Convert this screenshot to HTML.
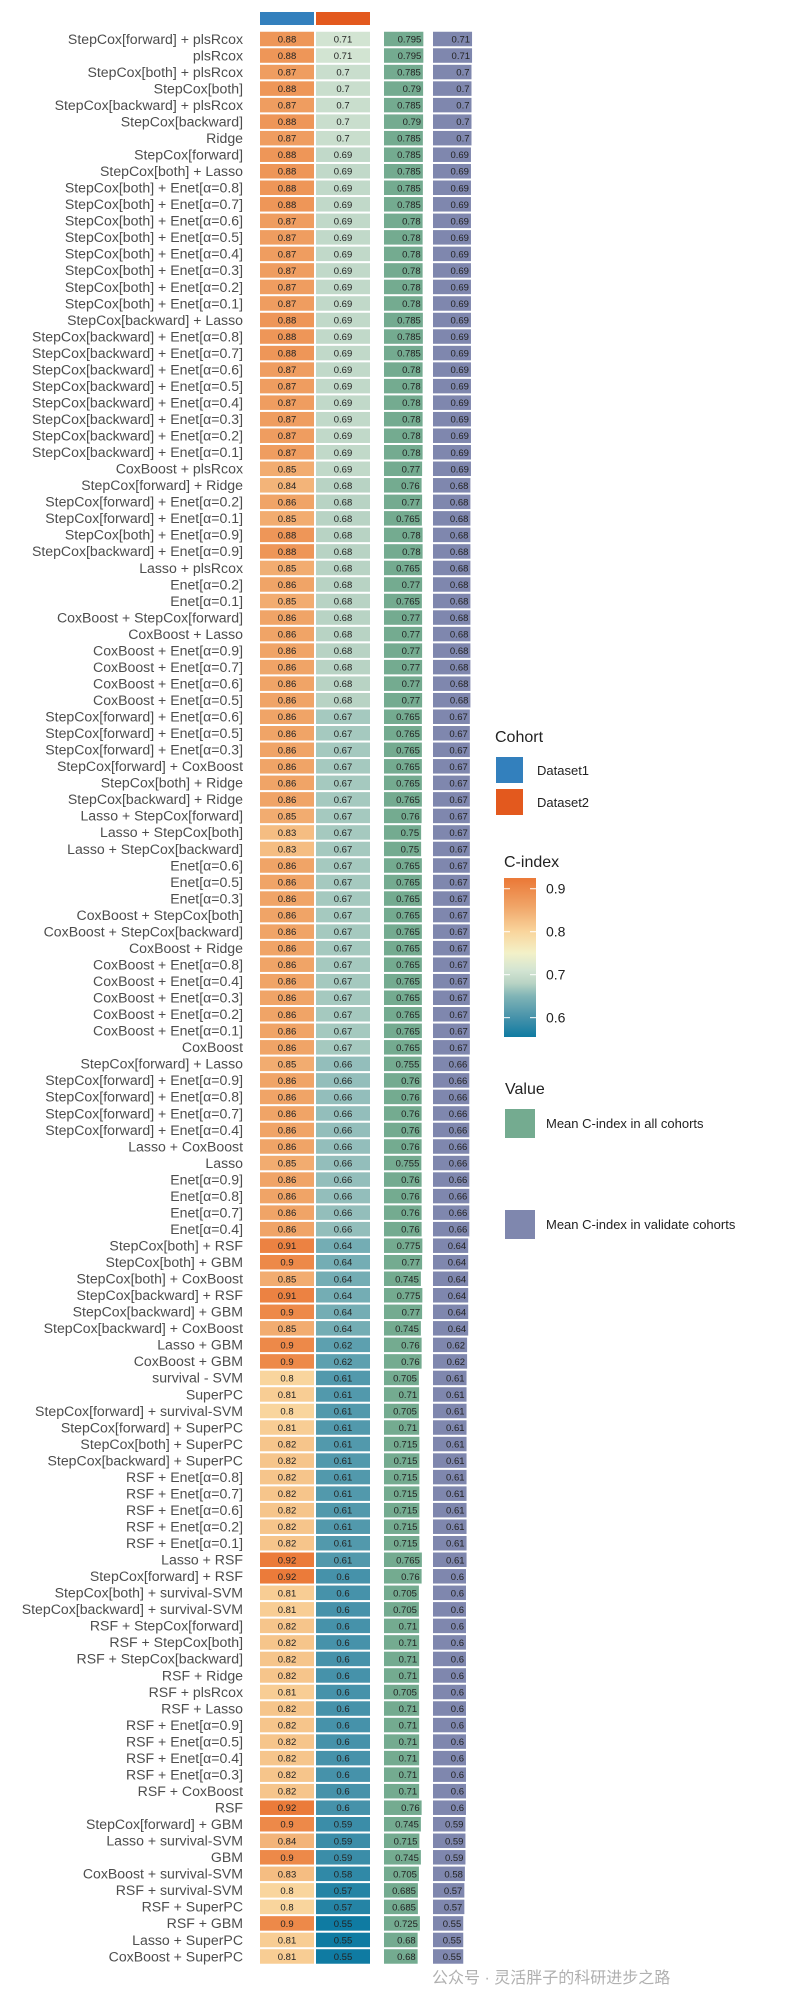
<!DOCTYPE html>
<html><head><meta charset="utf-8">
<style>
html,body{margin:0;padding:0;background:#fff;width:800px;height:2000px;overflow:hidden}
svg{display:block;font-family:"Liberation Sans","Noto Sans CJK SC",sans-serif}
</style></head>
<body>
<svg id="chart" width="800" height="2000"></svg>
<script>
const models=["StepCox[forward] + plsRcox","plsRcox","StepCox[both] + plsRcox","StepCox[both]","StepCox[backward] + plsRcox","StepCox[backward]","Ridge","StepCox[forward]","StepCox[both] + Lasso","StepCox[both] + Enet[α=0.8]","StepCox[both] + Enet[α=0.7]","StepCox[both] + Enet[α=0.6]","StepCox[both] + Enet[α=0.5]","StepCox[both] + Enet[α=0.4]","StepCox[both] + Enet[α=0.3]","StepCox[both] + Enet[α=0.2]","StepCox[both] + Enet[α=0.1]","StepCox[backward] + Lasso","StepCox[backward] + Enet[α=0.8]","StepCox[backward] + Enet[α=0.7]","StepCox[backward] + Enet[α=0.6]","StepCox[backward] + Enet[α=0.5]","StepCox[backward] + Enet[α=0.4]","StepCox[backward] + Enet[α=0.3]","StepCox[backward] + Enet[α=0.2]","StepCox[backward] + Enet[α=0.1]","CoxBoost + plsRcox","StepCox[forward] + Ridge","StepCox[forward] + Enet[α=0.2]","StepCox[forward] + Enet[α=0.1]","StepCox[both] + Enet[α=0.9]","StepCox[backward] + Enet[α=0.9]","Lasso + plsRcox","Enet[α=0.2]","Enet[α=0.1]","CoxBoost + StepCox[forward]","CoxBoost + Lasso","CoxBoost + Enet[α=0.9]","CoxBoost + Enet[α=0.7]","CoxBoost + Enet[α=0.6]","CoxBoost + Enet[α=0.5]","StepCox[forward] + Enet[α=0.6]","StepCox[forward] + Enet[α=0.5]","StepCox[forward] + Enet[α=0.3]","StepCox[forward] + CoxBoost","StepCox[both] + Ridge","StepCox[backward] + Ridge","Lasso + StepCox[forward]","Lasso + StepCox[both]","Lasso + StepCox[backward]","Enet[α=0.6]","Enet[α=0.5]","Enet[α=0.3]","CoxBoost + StepCox[both]","CoxBoost + StepCox[backward]","CoxBoost + Ridge","CoxBoost + Enet[α=0.8]","CoxBoost + Enet[α=0.4]","CoxBoost + Enet[α=0.3]","CoxBoost + Enet[α=0.2]","CoxBoost + Enet[α=0.1]","CoxBoost","StepCox[forward] + Lasso","StepCox[forward] + Enet[α=0.9]","StepCox[forward] + Enet[α=0.8]","StepCox[forward] + Enet[α=0.7]","StepCox[forward] + Enet[α=0.4]","Lasso + CoxBoost","Lasso","Enet[α=0.9]","Enet[α=0.8]","Enet[α=0.7]","Enet[α=0.4]","StepCox[both] + RSF","StepCox[both] + GBM","StepCox[both] + CoxBoost","StepCox[backward] + RSF","StepCox[backward] + GBM","StepCox[backward] + CoxBoost","Lasso + GBM","CoxBoost + GBM","survival - SVM","SuperPC","StepCox[forward] + survival-SVM","StepCox[forward] + SuperPC","StepCox[both] + SuperPC","StepCox[backward] + SuperPC","RSF + Enet[α=0.8]","RSF + Enet[α=0.7]","RSF + Enet[α=0.6]","RSF + Enet[α=0.2]","RSF + Enet[α=0.1]","Lasso + RSF","StepCox[forward] + RSF","StepCox[both] + survival-SVM","StepCox[backward] + survival-SVM","RSF + StepCox[forward]","RSF + StepCox[both]","RSF + StepCox[backward]","RSF + Ridge","RSF + plsRcox","RSF + Lasso","RSF + Enet[α=0.9]","RSF + Enet[α=0.5]","RSF + Enet[α=0.4]","RSF + Enet[α=0.3]","RSF + CoxBoost","RSF","StepCox[forward] + GBM","Lasso + survival-SVM","GBM","CoxBoost + survival-SVM","RSF + survival-SVM","RSF + SuperPC","RSF + GBM","Lasso + SuperPC","CoxBoost + SuperPC"];
const dataset1=[0.88,0.88,0.87,0.88,0.87,0.88,0.87,0.88,0.88,0.88,0.88,0.87,0.87,0.87,0.87,0.87,0.87,0.88,0.88,0.88,0.87,0.87,0.87,0.87,0.87,0.87,0.85,0.84,0.86,0.85,0.88,0.88,0.85,0.86,0.85,0.86,0.86,0.86,0.86,0.86,0.86,0.86,0.86,0.86,0.86,0.86,0.86,0.85,0.83,0.83,0.86,0.86,0.86,0.86,0.86,0.86,0.86,0.86,0.86,0.86,0.86,0.86,0.85,0.86,0.86,0.86,0.86,0.86,0.85,0.86,0.86,0.86,0.86,0.91,0.9,0.85,0.91,0.9,0.85,0.9,0.9,0.8,0.81,0.8,0.81,0.82,0.82,0.82,0.82,0.82,0.82,0.82,0.92,0.92,0.81,0.81,0.82,0.82,0.82,0.82,0.81,0.82,0.82,0.82,0.82,0.82,0.82,0.92,0.9,0.84,0.9,0.83,0.8,0.8,0.9,0.81,0.81];
const dataset2=[0.71,0.71,0.7,0.7,0.7,0.7,0.7,0.69,0.69,0.69,0.69,0.69,0.69,0.69,0.69,0.69,0.69,0.69,0.69,0.69,0.69,0.69,0.69,0.69,0.69,0.69,0.69,0.68,0.68,0.68,0.68,0.68,0.68,0.68,0.68,0.68,0.68,0.68,0.68,0.68,0.68,0.67,0.67,0.67,0.67,0.67,0.67,0.67,0.67,0.67,0.67,0.67,0.67,0.67,0.67,0.67,0.67,0.67,0.67,0.67,0.67,0.67,0.66,0.66,0.66,0.66,0.66,0.66,0.66,0.66,0.66,0.66,0.66,0.64,0.64,0.64,0.64,0.64,0.64,0.62,0.62,0.61,0.61,0.61,0.61,0.61,0.61,0.61,0.61,0.61,0.61,0.61,0.61,0.6,0.6,0.6,0.6,0.6,0.6,0.6,0.6,0.6,0.6,0.6,0.6,0.6,0.6,0.6,0.59,0.59,0.59,0.58,0.57,0.57,0.55,0.55,0.55];
const meanAll=[0.795,0.795,0.785,0.79,0.785,0.79,0.785,0.785,0.785,0.785,0.785,0.78,0.78,0.78,0.78,0.78,0.78,0.785,0.785,0.785,0.78,0.78,0.78,0.78,0.78,0.78,0.77,0.76,0.77,0.765,0.78,0.78,0.765,0.77,0.765,0.77,0.77,0.77,0.77,0.77,0.77,0.765,0.765,0.765,0.765,0.765,0.765,0.76,0.75,0.75,0.765,0.765,0.765,0.765,0.765,0.765,0.765,0.765,0.765,0.765,0.765,0.765,0.755,0.76,0.76,0.76,0.76,0.76,0.755,0.76,0.76,0.76,0.76,0.775,0.77,0.745,0.775,0.77,0.745,0.76,0.76,0.705,0.71,0.705,0.71,0.715,0.715,0.715,0.715,0.715,0.715,0.715,0.765,0.76,0.705,0.705,0.71,0.71,0.71,0.71,0.705,0.71,0.71,0.71,0.71,0.71,0.71,0.76,0.745,0.715,0.745,0.705,0.685,0.685,0.725,0.68,0.68];
const meanValid=[0.71,0.71,0.7,0.7,0.7,0.7,0.7,0.69,0.69,0.69,0.69,0.69,0.69,0.69,0.69,0.69,0.69,0.69,0.69,0.69,0.69,0.69,0.69,0.69,0.69,0.69,0.69,0.68,0.68,0.68,0.68,0.68,0.68,0.68,0.68,0.68,0.68,0.68,0.68,0.68,0.68,0.67,0.67,0.67,0.67,0.67,0.67,0.67,0.67,0.67,0.67,0.67,0.67,0.67,0.67,0.67,0.67,0.67,0.67,0.67,0.67,0.67,0.66,0.66,0.66,0.66,0.66,0.66,0.66,0.66,0.66,0.66,0.66,0.64,0.64,0.64,0.64,0.64,0.64,0.62,0.62,0.61,0.61,0.61,0.61,0.61,0.61,0.61,0.61,0.61,0.61,0.61,0.61,0.6,0.6,0.6,0.6,0.6,0.6,0.6,0.6,0.6,0.6,0.6,0.6,0.6,0.6,0.6,0.59,0.59,0.59,0.58,0.57,0.57,0.55,0.55,0.55];
const colorTicks=[0.6,0.7,0.8,0.9];

const NS="http://www.w3.org/2000/svg";
const svg=document.getElementById('chart');
function mk(tag,attrs,parent){const e=document.createElementNS(NS,tag);for(const k in attrs)e.setAttribute(k,attrs[k]);(parent||svg).appendChild(e);return e;}
const stops=[[0.55,[15,123,162]],[0.6,[70,146,170]],[0.65,[128,180,182]],[0.68,[184,211,196]],[0.71,[210,228,210]],[0.75,[243,241,200]],[0.8,[249,213,157]],[0.86,[240,164,103]],[0.92,[235,123,58]]];
function col(v){if(v<=stops[0][0])return rgb(stops[0][1]);for(let i=1;i<stops.length;i++){if(v<=stops[i][0]){const a=stops[i-1],b=stops[i],t=(v-a[0])/(b[0]-a[0]);return rgb(a[1].map((c,j)=>c+(b[1][j]-c)*t));}}return rgb(stops[stops.length-1][1]);}
function rgb(c){return 'rgb('+c.map(x=>Math.round(x)).join(',')+')';}
const y0=39,pitch=16.53,ch=14.5;
function yOf(i){return y0+i*pitch;}
const c1x=260,c2x=316,cw=54,gx=384,gs=49.5,px=433,ps=55;
function fmt(v){return String(+v.toFixed(3));}
const h1=mk('rect',{x:c1x,y:12,width:cw,height:13,fill:'#3380bd'});


const h2=mk('rect',{x:c2x,y:12,width:cw,height:13,fill:'#e3591e'});


models.forEach((m,i)=>{
  const y=yOf(i);
  const g=mk('g',{});
  
  
  const t=mk('text',{x:243,y:y+4.8,'text-anchor':'end','font-size':14.1,fill:'#4d4d4d'},g);t.textContent=m;
  
  
  [[c1x,dataset1[i]],[c2x,dataset2[i]]].forEach(([x,v],k)=>{
    const r=mk('rect',{x:x,y:y-ch/2,width:cw,height:ch,fill:col(v)},g);
    
    
    const tt=mk('text',{x:x+cw/2,y:y+3.5,'text-anchor':'middle','font-size':9.5,fill:'#222'},g);tt.textContent=fmt(v);
  });
  const wa=meanAll[i]*gs;
  const b1=mk('rect',{x:gx,y:y-ch/2,width:wa,height:ch,fill:'#74ab90'},g);
  
  
  const t1=mk('text',{x:gx+wa-2,y:y+3.5,'text-anchor':'end','font-size':9.5,fill:'#222'},g);t1.textContent=fmt(meanAll[i]);
  const wv=meanValid[i]*ps;
  const b2=mk('rect',{x:px,y:y-ch/2,width:wv,height:ch,fill:'#7f87ae'},g);
  
  
  const t2=mk('text',{x:px+wv-2,y:y+3.5,'text-anchor':'end','font-size':9.5,fill:'#222'},g);t2.textContent=fmt(meanValid[i]);
});
function txt(x,y,s,size,name){const t=mk('text',{x:x,y:y,'font-size':size,fill:'#222'});t.textContent=s;return t;}
txt(495,742,'Cohort',16,'cohort-legend-title');
const l1=mk('rect',{x:496,y:757,width:27,height:26,fill:'#3380bd'});


const l2=mk('rect',{x:496,y:789,width:27,height:26,fill:'#e3591e'});


txt(537,775,'Dataset1',13,'legend-dataset1-label');
txt(537,807,'Dataset2',13,'legend-dataset2-label');
txt(504,867,'C-index',16,'cindex-legend-title');
const defs=mk('defs',{});
const lg=mk('linearGradient',{id:'cg',x1:0,y1:1,x2:0,y2:0},defs);
const cbTop=878,cbBot=1037,vLo=0.555,vHi=0.925;
stops.forEach(s=>{mk('stop',{offset:Math.max(0,(s[0]-vLo)/(vHi-vLo)),'stop-color':rgb(s[1])},lg);});
const cb=mk('rect',{x:504,y:cbTop,width:32,height:cbBot-cbTop,fill:'url(#cg)'});


colorTicks.forEach(v=>{const y=cbBot-(v-vLo)/(vHi-vLo)*(cbBot-cbTop);
  mk('line',{x1:504,x2:510,y1:y,y2:y,stroke:'#fff','stroke-width':1});
  mk('line',{x1:530,x2:536,y1:y,y2:y,stroke:'#fff','stroke-width':1});
  txt(546,y+5,String(v),14,'colorbar-tick-label');});
txt(505,1094,'Value',16,'value-legend-title');
const v1=mk('rect',{x:505,y:1109,width:30,height:29,fill:'#74ab90'});


const v2=mk('rect',{x:505,y:1210,width:30,height:29,fill:'#7f87ae'});


txt(546,1128,'Mean C-index in all cohorts',13,'legend-mean-all-label');
txt(546,1229,'Mean C-index in validate cohorts',13,'legend-mean-validate-label');
const wm=mk('text',{x:432,y:1983,'font-size':16,fill:'#b0b0b0'});wm.textContent='公众号 · 灵活胖子的科研进步之路';


</script>
</body></html>
